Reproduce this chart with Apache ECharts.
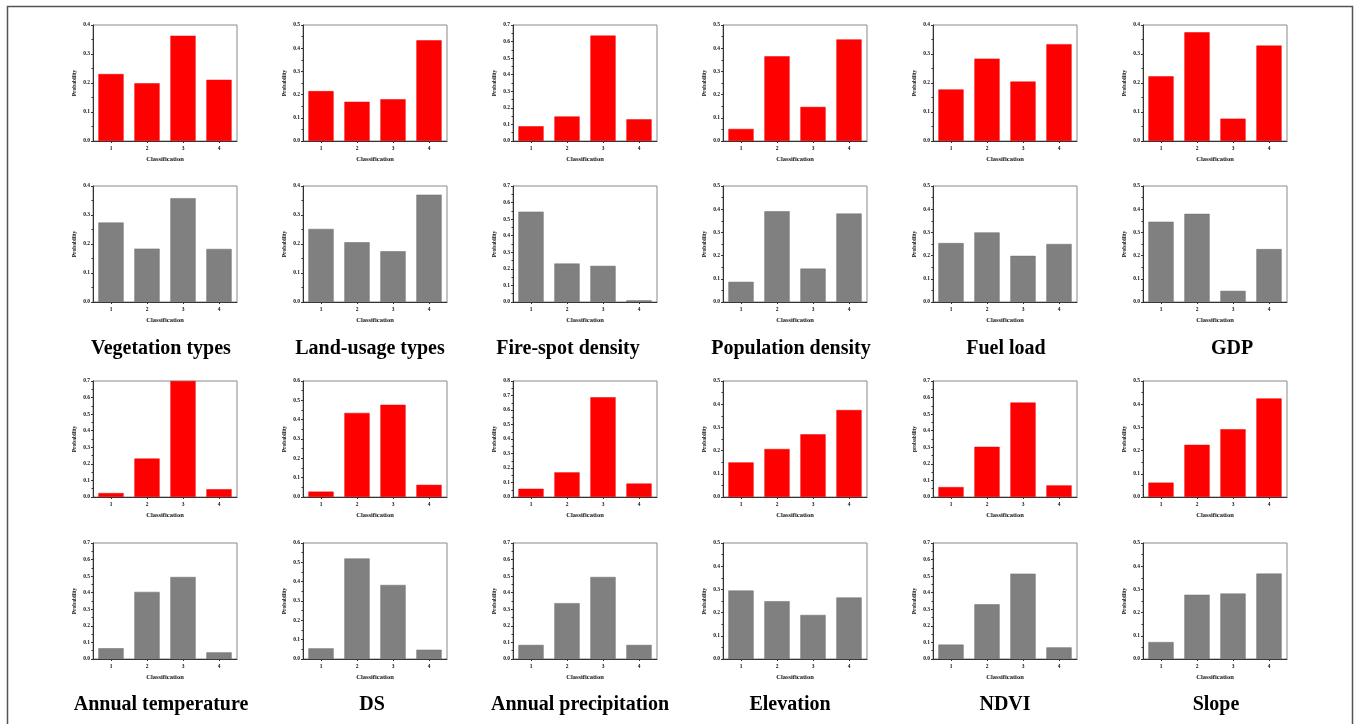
<!DOCTYPE html>
<html><head><meta charset="utf-8">
<script src="https://cdn.jsdelivr.net/npm/echarts@6/dist/echarts.min.js"></script>
<style>html,body{margin:0;padding:0;background:#fff}#c{width:1356px;height:724px}</style>
</head><body><div id="c"></div>
<script>
const categories = ['1','2','3','4'];
// Row 1 (red) and row 2 (gray)
const vegetationRed   = [0.231, 0.199, 0.363, 0.211];
const landUsageRed    = [0.215, 0.169, 0.180, 0.434];
const fireSpotRed     = [0.089, 0.148, 0.636, 0.131];
const populationRed   = [0.052, 0.365, 0.147, 0.438];
const fuelLoadRed     = [0.178, 0.284, 0.205, 0.334];
const gdpRed          = [0.223, 0.375, 0.077, 0.329];
const vegetationGray  = [0.274, 0.184, 0.358, 0.183];
const landUsageGray   = [0.252, 0.206, 0.175, 0.370];
const fireSpotGray    = [0.545, 0.232, 0.218, 0.010];
const populationGray  = [0.087, 0.391, 0.144, 0.381];
const fuelLoadGray    = [0.254, 0.300, 0.199, 0.250];
const gdpGray         = [0.346, 0.380, 0.048, 0.228];
// Row 3 (red) and row 4 (gray)
const annTempRed      = [0.024, 0.232, 0.700, 0.047];
const dsRed           = [0.028, 0.435, 0.477, 0.063];
const annPrecipRed    = [0.057, 0.170, 0.688, 0.093];
const elevationRed    = [0.149, 0.207, 0.270, 0.375];
const ndviRed         = [0.060, 0.303, 0.570, 0.070];
const slopeRed        = [0.062, 0.225, 0.292, 0.425];
const annTempGray     = [0.065, 0.405, 0.495, 0.040];
const dsGray          = [0.055, 0.520, 0.383, 0.048];
const annPrecipGray   = [0.085, 0.337, 0.495, 0.085];
const elevationGray   = [0.295, 0.249, 0.190, 0.265];
const ndviGray        = [0.087, 0.330, 0.515, 0.070];
const slopeGray       = [0.073, 0.277, 0.282, 0.368];

const titlesTop    = ['Vegetation types','Land-usage types','Fire-spot density','Population density','Fuel load','GDP'];
const titlesBottom = ['Annual temperature','DS','Annual precipitation','Elevation','NDVI','Slope'];
const yMaxRow1 = [0.4, 0.5, 0.7, 0.5, 0.4, 0.4];
const yMaxRow2 = [0.4, 0.4, 0.7, 0.5, 0.5, 0.5];
const yMaxRow3 = [0.7, 0.6, 0.8, 0.5, 0.7, 0.5];
const yMaxRow4 = [0.7, 0.6, 0.7, 0.5, 0.7, 0.5];
const yNameRow3 = ['Probability','Probability','Probability','Probability','probability','Probability'];

const rows = [
  {data:[vegetationRed,landUsageRed,fireSpotRed,populationRed,fuelLoadRed,gdpRed], max:yMaxRow1, color:'#ff0000'},
  {data:[vegetationGray,landUsageGray,fireSpotGray,populationGray,fuelLoadGray,gdpGray], max:yMaxRow2, color:'#808080'},
  {data:[annTempRed,dsRed,annPrecipRed,elevationRed,ndviRed,slopeRed], max:yMaxRow3, color:'#ff0000', names:yNameRow3},
  {data:[annTempGray,dsGray,annPrecipGray,elevationGray,ndviGray,slopeGray], max:yMaxRow4, color:'#808080'}
];

const colLeft = [93, 303, 513, 723, 933, 1143];
const rowTop = [25, 186, 381, 543];
const gw = 144, gh = 116;
const FONT = '"Liberation Serif","Times New Roman",serif';

const grid=[], xAxis=[], yAxis=[], series=[], graphic=[];
let k=0;
rows.forEach((r,ri)=>{
  r.data.forEach((vals,ci)=>{
    grid.push({left:colLeft[ci], top:rowTop[ri], width:gw, height:gh, show:true, borderColor:'#8a8a8a', borderWidth:1, backgroundColor:'transparent'});
    xAxis.push({type:'category', gridIndex:k, data:categories,
      name:'Classification', nameLocation:'middle', nameGap:15,
      nameTextStyle:{fontFamily:FONT, fontWeight:'bold', fontSize:6.5, color:'#111'},
      axisLine:{lineStyle:{color:'#333', width:1}},
      axisTick:{show:true, alignWithLabel:true, length:2, lineStyle:{color:'#333'}},
      axisLabel:{fontFamily:FONT, fontWeight:'bold', fontSize:5.5, color:'#111', margin:5}
    });
    yAxis.push({type:'value', gridIndex:k, min:0, max:r.max[ci], interval:0.1,
      name:(r.names?r.names[ci]:'Probability'), nameLocation:'middle', nameGap:15, nameRotate:90,
      nameTextStyle:{fontFamily:FONT, fontWeight:'bold', fontSize:5.5, color:'#111'},
      axisLine:{show:true, lineStyle:{color:'#333', width:1}},
      axisTick:{show:true, length:2, lineStyle:{color:'#333'}},
      minorTick:{show:true, splitNumber:2, length:1.5, lineStyle:{color:'#333'}},
      splitLine:{show:false},
      axisLabel:{fontFamily:FONT, fontWeight:'bold', fontSize:5.5, color:'#111', margin:3,
        formatter:v=>v.toFixed(1)}
    });
    series.push({type:'bar', xAxisIndex:k, yAxisIndex:k, data:vals, barWidth:'70%',
      itemStyle:{color:r.color, borderColor:(r.color==='#808080'?'#6a6a6a':'#ee0000'), borderWidth:0.5},
      silent:true, animation:false});
    k++;
  });
});

const titleCxTop = [161, 370, 568, 791, 1006, 1232];
const titleCxBottom = [161, 372, 580, 790, 1005, 1216];
titlesTop.forEach((t,i)=>graphic.push({type:'text', x:titleCxTop[i], y:349, silent:true,
  style:{text:t, textAlign:'center', textVerticalAlign:'middle', font:'bold 20px ' + FONT, fill:'#000'}}));
titlesBottom.forEach((t,i)=>graphic.push({type:'text', x:titleCxBottom[i], y:705, silent:true,
  style:{text:t, textAlign:'center', textVerticalAlign:'middle', font:'bold 20px ' + FONT, fill:'#000'}}));
graphic.push({type:'rect', shape:{x:7.5, y:6.5, width:1345, height:740}, style:{fill:'none', stroke:'#555', lineWidth:1.5}, silent:true});

const chart = echarts.init(document.getElementById('c'));
chart.setOption({
  animation:false,
  backgroundColor:'#fff',
  grid, xAxis, yAxis, series, graphic
});
</script></body></html>
